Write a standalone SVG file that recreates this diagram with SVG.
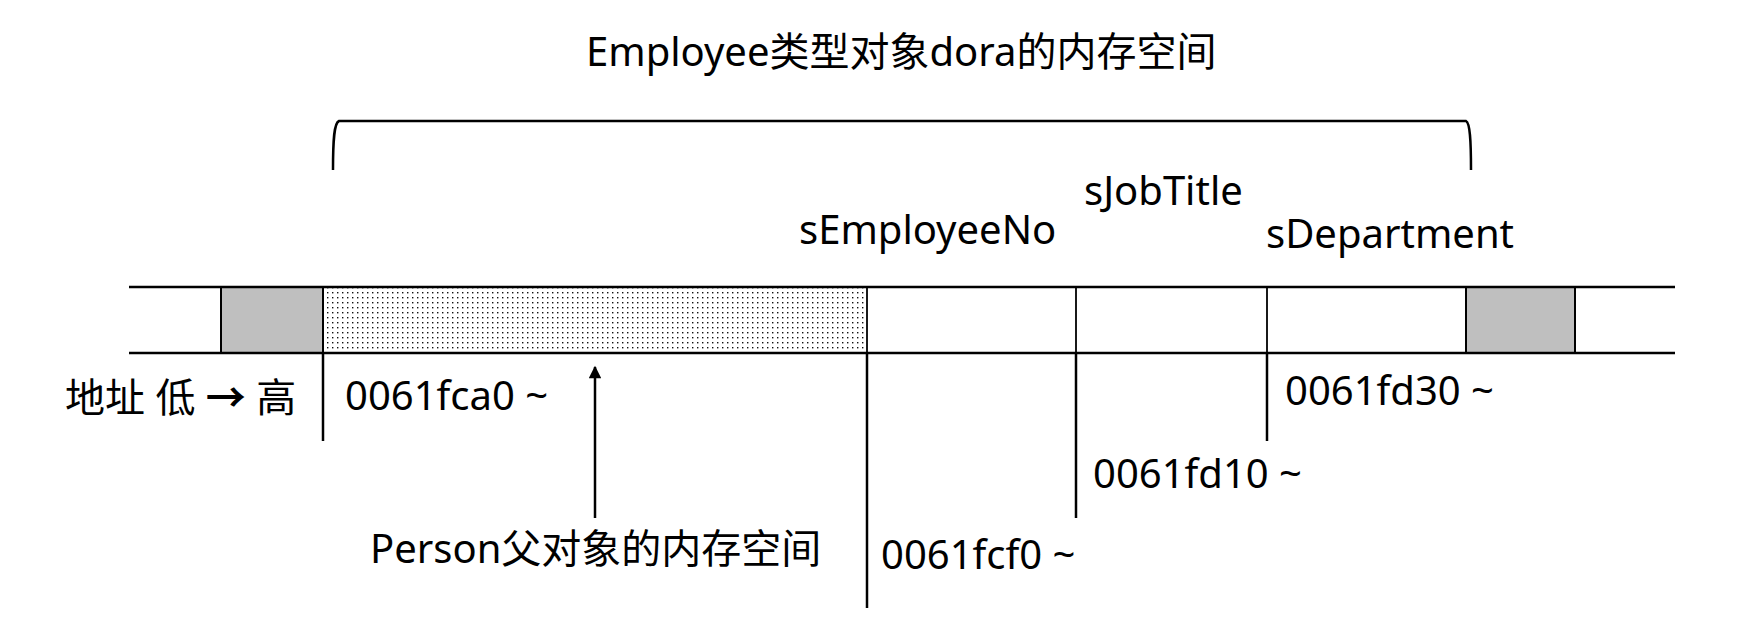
<svg xmlns="http://www.w3.org/2000/svg" width="1757" height="617" viewBox="0 0 1757 617">
  <style>
    .t { font-family: "Noto Sans", "Noto Sans CJK SC", sans-serif; font-size: 40px; fill: #000; }
    .ln { stroke: #000; stroke-width: 2.5; fill: none; }
    .div { stroke: #000; stroke-width: 1.8; fill: none; }
    .pad { fill: #bfbfbf; stroke: #000; stroke-width: 2; }
  </style>
  <defs>
    <pattern id="dots" x="0" y="0" width="5" height="5" patternUnits="userSpaceOnUse">
      <rect x="2" y="2" width="1.4" height="1.4" fill="#111"/>
    </pattern>
    <marker id="arrow" viewBox="0 0 10 10" refX="9" refY="5" markerWidth="5.5" markerHeight="5" orient="auto" markerUnits="strokeWidth">
      <path d="M0,0 L10,5 L0,10 Z" fill="#000"/>
    </marker>
  </defs>

  <rect width="1757" height="617" fill="#fff"/>

  <!-- title and brace spanning the Employee object -->
  <g id="title">
    <text class="t" x="586" y="66">Employee类型对象dora的内存空间</text>
    <path class="ln" d="M333,170 C333,140 334,123 339,121 L1466,121 C1470,123 1471,140 1471,170"/>
  </g>

  <!-- memory strip -->
  <g id="memory-strip">
    <rect x="221" y="287" width="102" height="66" class="pad"/>
    <rect x="323" y="287" width="544" height="66" fill="url(#dots)" stroke="#000" stroke-width="1.8"/>
    <line class="div" x1="1076" y1="287" x2="1076" y2="353"/>
    <line class="div" x1="1267" y1="287" x2="1267" y2="353"/>
    <rect x="1466" y="287" width="109" height="66" class="pad"/>
    <line class="ln" x1="129" y1="287" x2="1675" y2="287"/>
    <line class="ln" x1="129" y1="353" x2="1675" y2="353"/>
  </g>

  <!-- member labels -->
  <g id="member-sEmployeeNo">
    <text class="t" x="799" y="244">sEmployeeNo</text>
  </g>
  <g id="member-sJobTitle">
    <text class="t" x="1084" y="205">sJobTitle</text>
  </g>
  <g id="member-sDepartment">
    <text class="t" x="1266" y="248">sDepartment</text>
  </g>

  <!-- address markers -->
  <g id="address-direction">
    <text class="t" x="65" y="412">地址 低 <tspan font-weight="bold" font-family="Noto Sans CJK SC, sans-serif">→</tspan> 高</text>
  </g>
  <g id="addr-0061fca0">
    <text class="t" x="345" y="410">0061fca0 ~</text>
  </g>
  <g id="addr-0061fcf0">
    <text class="t" x="881" y="569">0061fcf0 ~</text>
  </g>
  <g id="addr-0061fd10">
    <text class="t" x="1093" y="488">0061fd10 ~</text>
  </g>
  <g id="addr-0061fd30">
    <text class="t" x="1285" y="405">0061fd30 ~</text>
  </g>
  <g id="person-label">
    <text class="t" x="370" y="563">Person父对象的内存空间</text>
  </g>

  <!-- ticks and pointer -->
  <g id="connectors">
    <line class="ln" x1="323" y1="353" x2="323" y2="441"/>
    <line class="ln" x1="867" y1="353" x2="867" y2="608"/>
    <line class="ln" x1="1076" y1="353" x2="1076" y2="518"/>
    <line class="ln" x1="1267" y1="353" x2="1267" y2="441"/>
    <line class="ln" x1="595" y1="518" x2="595" y2="367" marker-end="url(#arrow)"/>
  </g>
</svg>
